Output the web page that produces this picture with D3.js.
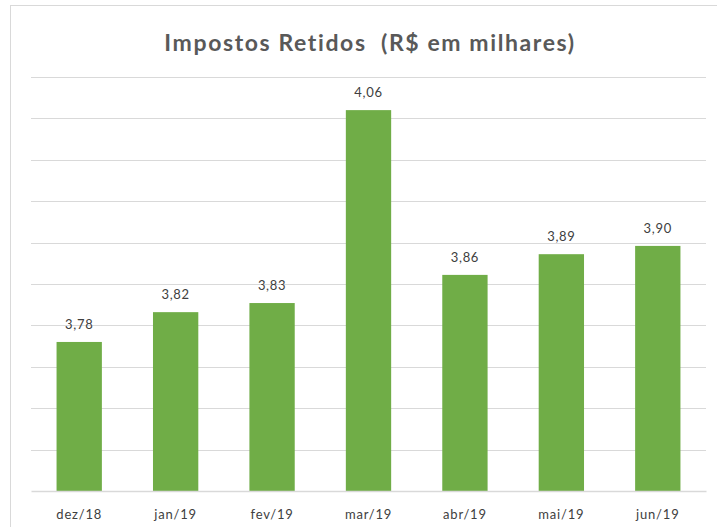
<!DOCTYPE html>
<html><head><meta charset="utf-8">
<script src="https://cdn.jsdelivr.net/npm/d3@7"></script>
<style>body{margin:0;background:#fff}svg{display:block}</style>
</head><body>
<script>
const categories = ["dez/18","jan/19","fev/19","mar/19","abr/19","mai/19","jun/19"];
const values = [3.780, 3.816, 3.827, 4.060, 3.861, 3.886, 3.896];
const valueLabels = ["3,78","3,82","3,83","4,06","3,86","3,89","3,90"];
const yTicks = [3.60,3.65,3.70,3.75,3.80,3.85,3.90,3.95,4.00,4.05,4.10];
const title = "Impostos Retidos  (R$ em milhares)";

const W = 717, H = 527;
const svg = d3.select("body").append("svg").attr("width", W).attr("height", H);
svg.append("rect").attr("x",10.5).attr("y",5.5).attr("width",720).attr("height",530)
  .attr("fill","#fff").attr("stroke","#d9d9d9");

const font = "Lato, 'Open Sans', sans-serif";
svg.append("text").attr("x", 370).attr("y", 51).attr("text-anchor","middle")
  .style("white-space","pre").attr("letter-spacing",1.6)
  .attr("font-family", font).attr("font-weight","bold").attr("font-size", 23)
  .attr("fill","#595959").text(title);

const x = d3.scaleBand().domain(categories).range([31, 706]).paddingInner(0.53).paddingOuter(0.265);
const y = d3.scaleLinear().domain([3.6, 4.1]).range([491, 77]);

svg.append("g").selectAll("line").data(yTicks.slice(1)).join("line")
  .attr("x1",31).attr("x2",706).attr("y1",d=>Math.round(y(d))+0.5).attr("y2",d=>Math.round(y(d))+0.5)
  .attr("stroke","#d9d9d9").attr("stroke-width",1);

svg.append("g").selectAll("rect").data(values).join("rect")
  .attr("x",(d,i)=>x(categories[i])).attr("width",x.bandwidth())
  .attr("y",d=>y(d)).attr("height",d=>y(3.6)-y(d)).attr("fill","#70ad47");

const xa = svg.append("g").attr("transform","translate(0,491)")
  .call(d3.axisBottom(x).tickSize(0).tickPadding(19));
xa.select(".domain").attr("stroke","#d9d9d9").attr("stroke-width",1.5);
xa.selectAll("text").attr("font-family",font).attr("font-size",13).attr("letter-spacing",0.8).attr("fill","#404040");

svg.append("g").selectAll("text").data(values).join("text")
  .attr("x",(d,i)=>x(categories[i])+x.bandwidth()/2).attr("y",d=>y(d)-13)
  .attr("text-anchor","middle").attr("font-family",font).attr("font-size",13)
  .attr("letter-spacing",0.7).attr("fill","#404040")
  .text((d,i)=>valueLabels[i]);
</script>
</body></html>
